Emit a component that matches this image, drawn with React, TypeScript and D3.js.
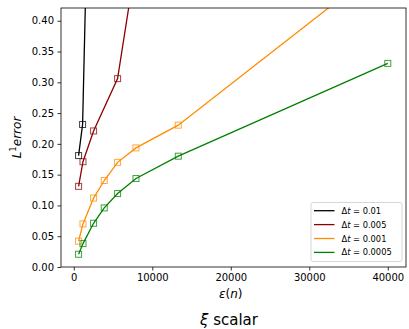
import React, { useEffect, useRef } from "react";
import * as d3 from "d3";

// error vs epsilon(n), one series per time step
const labels = ["0.01", "0.005", "0.001", "0.0005"];
const colors = ["#000000", "#8b0000", "#ff8c00", "#008000"];

const xs001 = [610, 1120, 2500];
const ys001 = [0.181, 0.2315, 0.99];

const xs0005 = [610, 1170, 2520, 5580, 7900];
const ys0005 = [0.131, 0.171, 0.221, 0.306, 0.495];

const xs0001 = [610, 1170, 2520, 3880, 5580, 7920, 13310, 40000];
const ys0001 = [0.042, 0.07, 0.112, 0.1405, 0.17, 0.1935, 0.2304, 0.496];

const xs00005 = [610, 1170, 2520, 3880, 5580, 7920, 13310, 40000];
const ys00005 = [0.0207, 0.038, 0.071, 0.096, 0.1193, 0.1437, 0.18, 0.3307];

const xTicks = [0, 10000, 20000, 30000, 40000];
const yTicks = [0, 0.05, 0.1, 0.15, 0.2, 0.25, 0.3, 0.35, 0.4];

export default function App() {
  const ref = useRef<SVGSVGElement>(null);

  useEffect(() => {
    const svg = d3.select(ref.current);
    svg.selectAll("*").remove();

    const W = 409, H = 329;
    const m = { left: 61, right: 3, top: 8, bottom: 62 };
    const font = "DejaVu Sans, sans-serif";

    const x = d3.scaleLinear().domain([-1630, 42320]).range([m.left, W - m.right]);
    const y = d3.scaleLinear().domain([0, 0.4207]).range([H - m.bottom, m.top]);

    const series = [
      { xs: xs001, ys: ys001 },
      { xs: xs0005, ys: ys0005 },
      { xs: xs0001, ys: ys0001 },
      { xs: xs00005, ys: ys00005 },
    ];

    svg.append("defs").append("clipPath").attr("id", "plot")
      .append("rect")
      .attr("x", m.left).attr("y", m.top)
      .attr("width", W - m.right - m.left).attr("height", H - m.bottom - m.top);

    const g = svg.append("g").attr("clip-path", "url(#plot)");

    series.forEach((s, k) => {
      const pts: [number, number][] = s.xs.map((v, i) => [v, s.ys[i]]);
      const path = d3.line<[number, number]>().x(d => x(d[0])).y(d => y(d[1]));
      g.append("path")
        .attr("d", path(pts))
        .attr("fill", "none")
        .attr("stroke", colors[k])
        .attr("stroke-width", 1.3);
      g.selectAll(null)
        .data(pts)
        .enter()
        .append("rect")
        .attr("x", d => x(d[0]) - 3)
        .attr("y", d => y(d[1]) - 3)
        .attr("width", 6)
        .attr("height", 6)
        .attr("fill", "none")
        .attr("stroke", colors[k])
        .attr("stroke-opacity", 0.75)
        .attr("stroke-width", 1);
    });

    // frame
    svg.append("rect")
      .attr("x", m.left).attr("y", m.top)
      .attr("width", W - m.right - m.left).attr("height", H - m.bottom - m.top)
      .attr("fill", "none").attr("stroke", "#000").attr("stroke-width", 0.8);

    const xa = svg.append("g")
      .attr("transform", `translate(0,${H - m.bottom})`)
      .call(d3.axisBottom(x).tickValues(xTicks).tickFormat(d3.format("d")).tickSize(3.5).tickPadding(3.5));
    const ya = svg.append("g")
      .attr("transform", `translate(${m.left},0)`)
      .call(d3.axisLeft(y).tickValues(yTicks).tickFormat(d3.format(".2f")).tickSize(3.5).tickPadding(3.5));
    [xa, ya].forEach(a => {
      a.select(".domain").remove();
      a.selectAll("text").attr("font-family", font).attr("font-size", 10).attr("fill", "#000");
      a.selectAll("line").attr("stroke", "#000").attr("stroke-width", 0.8);
    });

    // axis labels
    const xl = svg.append("text")
      .attr("x", x(20000)).attr("y", 297.5)
      .attr("text-anchor", "middle")
      .attr("font-family", font).attr("font-size", 12);
    xl.append("tspan").attr("font-style", "italic").text("ε");
    xl.append("tspan").text("(");
    xl.append("tspan").attr("font-style", "italic").text("n");
    xl.append("tspan").text(")");

    const yl = svg.append("text")
      .attr("transform", `translate(20.5,${(m.top + H - m.bottom) / 2}) rotate(-90)`)
      .attr("text-anchor", "middle")
      .attr("font-family", font).attr("font-size", 12).attr("font-style", "italic");
    yl.append("tspan").text("L");
    yl.append("tspan").attr("font-size", 8.5).attr("dy", -5).attr("font-style", "normal").text("1");
    yl.append("tspan").attr("dy", 5).text("error");

    const tl = svg.append("text")
      .attr("x", 229).attr("y", 325)
      .attr("text-anchor", "middle")
      .attr("font-family", font).attr("font-size", 15);
    tl.append("tspan").attr("font-style", "italic").text("ξ");
    tl.append("tspan").text(" scalar");

    // legend
    const lg = svg.append("g");
    lg.append("rect")
      .attr("x", 311).attr("y", 202.5).attr("width", 91).attr("height", 59).attr("rx", 2)
      .attr("fill", "#fff").attr("fill-opacity", 0.8)
      .attr("stroke", "#ccc").attr("stroke-width", 0.8);
    labels.forEach((lab, k) => {
      const yy = 210.7 + k * 13.9;
      lg.append("line")
        .attr("x1", 314).attr("x2", 334.5).attr("y1", yy).attr("y2", yy)
        .attr("stroke", colors[k]).attr("stroke-width", 1.3);
      const t = lg.append("text")
        .attr("x", 341.5).attr("y", yy + 3)
        .attr("font-family", font).attr("font-size", 8.3);
      t.append("tspan").text("Δ");
      t.append("tspan").attr("font-style", "italic").text("t");
      t.append("tspan").text(" = " + lab);
    });
  }, []);

  return (
    <svg ref={ref} width={409} height={329}
      style={{ position: "absolute", left: 0, top: 0, background: "#fff" }} />
  );
}
